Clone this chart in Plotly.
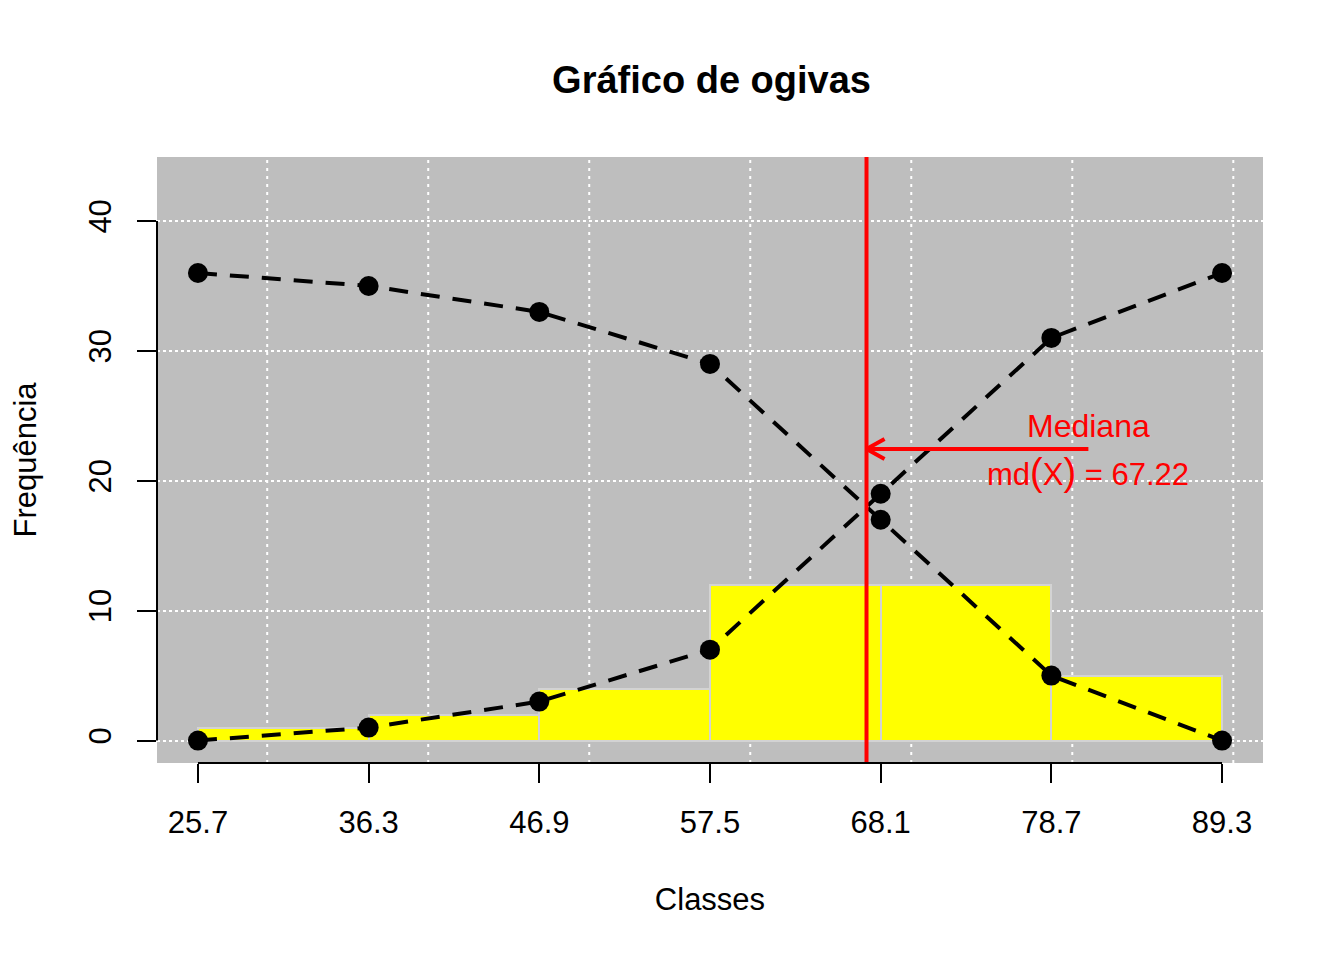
import numpy as np
import plotly.graph_objects as go

# ---- data ----
limites = [25.7, 36.3, 46.9, 57.5, 68.1, 78.7, 89.3]
frequencias = [1, 2, 4, 12, 12, 5]
ogiva_crescente = [0, 1, 3, 7, 19, 31, 36]
ogiva_decrescente = [36, 35, 33, 29, 17, 5, 0]
mediana = 67.22
y_ticks = [0, 10, 20, 30, 40]
x_grid = [30, 40, 50, 60, 70, 80, 90]
seta_x0 = 81.0
seta_y = 22.45
texto_y1 = 24.25
texto_y2 = 20.7

x_range = [23.156, 91.844]
y_range = [-1.728, 44.928]

FONT = "Liberation Sans, Arial, Helvetica, sans-serif"

amp = np.diff(limites)
centros = np.array(limites[:-1]) + amp / 2

fig = go.Figure()

fig.add_trace(go.Bar(
    x=centros, y=frequencias, width=amp,
    marker=dict(color="#FFFF00", line=dict(color="#D3D3D3", width=2)),
    showlegend=False, hoverinfo="skip",
))

for serie in (ogiva_crescente, ogiva_decrescente):
    fig.add_trace(go.Scatter(
        x=limites, y=serie, mode="lines+markers",
        line=dict(color="black", width=4, dash="19px,13px"),
        marker=dict(color="black", size=20),
        showlegend=False,
    ))

# arrow head (open chevron) at the median
dx, dy = 1.12, 0.77
fig.add_trace(go.Scatter(
    x=[mediana + dx, mediana, mediana + dx],
    y=[seta_y + dy, seta_y, seta_y - dy],
    mode="lines", line=dict(color="red", width=4),
    showlegend=False, hoverinfo="skip",
))

shapes = []
for gx in x_grid:
    shapes.append(dict(type="line", xref="x", yref="paper", x0=gx, x1=gx, y0=0, y1=1,
                       line=dict(color="white", width=2, dash="3px,5px"), layer="below"))
# median line
shapes.append(dict(type="line", xref="x", yref="paper", x0=mediana, x1=mediana, y0=0, y1=1,
                   line=dict(color="red", width=4), layer="above"))
# arrow shaft
shapes.append(dict(type="line", xref="x", yref="y", x0=seta_x0, x1=mediana, y0=seta_y, y1=seta_y,
                   line=dict(color="red", width=4), layer="above"))
# R-style axis lines
shapes.append(dict(type="line", xref="x", yref="paper", x0=limites[0], x1=limites[-1], y0=0, y1=0,
                   line=dict(color="black", width=2), layer="above"))
shapes.append(dict(type="line", xref="paper", yref="y", x0=0, x1=0, y0=y_ticks[0], y1=y_ticks[-1],
                   line=dict(color="black", width=2), layer="above"))

annotations = [
    dict(x=seta_x0, y=texto_y1, xref="x", yref="y", text="Mediana", showarrow=False,
         font=dict(family=FONT, size=32, color="red")),
    dict(x=seta_x0, y=texto_y2, xref="x", yref="y",
         text="md<span style='font-size:38px'>(</span>X<span style='font-size:38px'>)</span> = 67.22",
         showarrow=False, font=dict(family=FONT, size=31, color="red")),
]

fig.update_layout(
    width=1336, height=952,
    margin=dict(l=149, r=81, t=149, b=197),
    paper_bgcolor="white", plot_bgcolor="#BEBEBE",
    title=dict(text="<b>Gráfico de ogivas</b>", x=0.5266, xanchor="center", y=0.925, yanchor="middle",
               font=dict(family=FONT, size=38, color="black")),
    shapes=shapes, annotations=annotations,
    bargap=0,
    xaxis=dict(range=x_range, tickvals=limites, ticktext=[f"{v:.1f}" for v in limites],
               showgrid=False, zeroline=False, showline=False,
               ticks="outside", ticklen=19, tickwidth=2, tickcolor="black",
               ticklabelstandoff=13,
               tickfont=dict(family=FONT, size=31, color="black"),
               title=dict(text="Classes", font=dict(family=FONT, size=31, color="black"), standoff=49)),
    yaxis=dict(range=y_range, tickvals=y_ticks, showgrid=True, gridcolor="white", gridwidth=2,
               griddash="dot", zeroline=False, showline=False,
               ticks="outside", ticklen=19, tickwidth=2, tickcolor="black", tickangle=-90,
               ticklabelstandoff=14,
               tickfont=dict(family=FONT, size=31, color="black"),
               title=dict(text="Frequência", font=dict(family=FONT, size=31, color="black"), standoff=36)),
)

fig.write_html("out.html")
